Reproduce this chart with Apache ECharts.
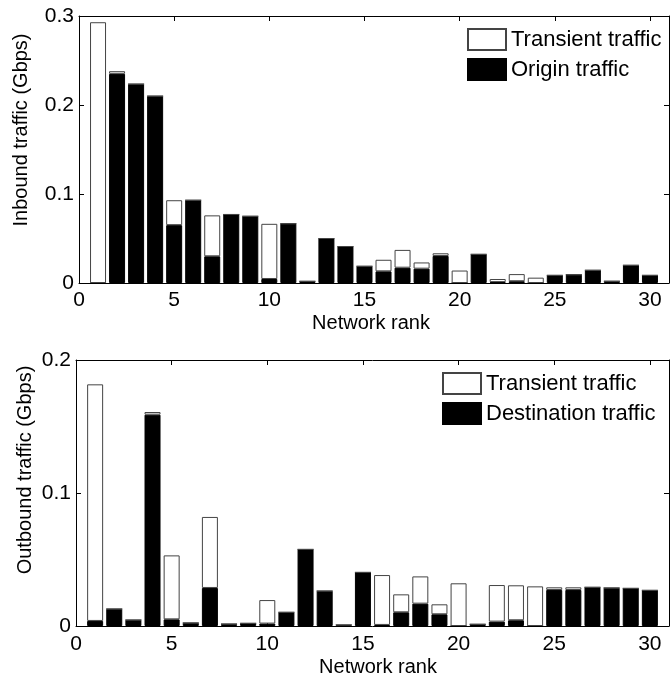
<!DOCTYPE html>
<html>
<head>
<meta charset="utf-8">
<script src="https://cdn.jsdelivr.net/npm/echarts@6/dist/echarts.min.js"></script>
<style>
  html, body { margin: 0; padding: 0; background: #fff; }
  #chart { width: 672px; height: 677px; }
</style>
</head>
<body>
<div id="chart"></div>
<script>
// 数据
var ranks = [1, 2, 3, 4, 5, 6, 7, 8, 9, 10, 11, 12, 13, 14, 15, 16, 17, 18, 19, 20, 21, 22, 23, 24, 25, 26, 27, 28, 29, 30];
var xTicks = [0, 5, 10, 15, 20, 25, 30];

// 上图: inbound
var inOrigin = [0, 0.235, 0.2235, 0.21, 0.065, 0.093, 0.030, 0.077, 0.075, 0.0045,
  0.0667, 0.0019, 0.050, 0.041, 0.0188, 0.0131, 0.0172, 0.0161, 0.0304, 0,
  0.0322, 0.001, 0.002, 0, 0.0086, 0.0094, 0.0143, 0.002, 0.0199, 0.0086];
var inTransient = [0.293, 0.003, 0, 0, 0.028, 0, 0.046, 0, 0, 0.062,
  0, 0, 0, 0, 0, 0.013, 0.020, 0.007, 0.003, 0.014,
  0, 0.0035, 0.008, 0.006, 0, 0, 0, 0, 0, 0];
var inTicks = [0, 0.1, 0.2, 0.3];

// 下图: outbound
var outDest = [0.0038, 0.0128, 0.0045, 0.1589, 0.005, 0.0023, 0.0286, 0.0015, 0.002, 0.0018,
  0.0103, 0.0576, 0.0263, 0.0008, 0.0403, 0.0008, 0.0103, 0.0168, 0.0088, 0,
  0.0013, 0.0033, 0.0043, 0, 0.0271, 0.0271, 0.0291, 0.0286, 0.0283, 0.0268];
var outTransient = [0.1779, 0, 0, 0.002, 0.0481, 0, 0.0534, 0, 0, 0.0177,
  0, 0, 0, 0, 0, 0.0375, 0.0135, 0.0205, 0.0075, 0.0321,
  0, 0.0275, 0.0263, 0.0298, 0.002, 0.002, 0, 0, 0, 0];
var outTicks = [0, 0.1, 0.2];

var font = 'Liberation Sans, Arial, Helvetica, sans-serif';
var chart = echarts.init(document.getElementById('chart'));

// 值在前、rank 在后，这样 stack 作用在 y 维上
function pairs (vals) {
  return ranks.map(function (r, i) { return [vals[i], r]; });
}

function xAxes (gi, margin) {
  var base = {
    type: 'value', gridIndex: gi, min: 0, max: 31, interval: 5,
    splitLine: { show: false },
    axisLine: { show: true, onZero: false, lineStyle: { color: '#000', width: 1 } },
    axisTick: { show: true, inside: true, length: 5, lineStyle: { color: '#000' } }
  };
  var bottom = echarts.util.merge({
    position: 'bottom',
    axisLabel: {
      margin: margin, color: '#000', fontSize: 21, fontFamily: font,
      formatter: function (v) { return xTicks.indexOf(v) >= 0 ? String(v) : ''; }
    }
  }, base, true);
  var top = echarts.util.merge({ position: 'top', axisLabel: { show: false } }, base, true);
  return [bottom, top];
}

function yAxes (gi, ticks) {
  var base = {
    type: 'value', gridIndex: gi, min: ticks[0], max: ticks[ticks.length - 1], interval: 0.1,
    splitLine: { show: false },
    axisLine: { show: true, onZero: false, lineStyle: { color: '#000', width: 1 } },
    axisTick: { show: true, inside: true, length: 5, lineStyle: { color: '#000' } }
  };
  var left = echarts.util.merge({
    position: 'left',
    axisLabel: {
      margin: 5, color: '#000', fontSize: 21, fontFamily: font,
      formatter: function (v) {
        var s = +v.toFixed(2);
        return ticks.indexOf(s) >= 0 ? String(s) : '';
      }
    }
  }, base, true);
  var right = echarts.util.merge({ position: 'right', axisLabel: { show: false } }, base, true);
  return [left, right];
}

function barSeries (name, vals, gi, stack, fill, edge) {
  return {
    name: name, type: 'bar', stack: stack,
    xAxisIndex: gi * 2, yAxisIndex: gi * 2,
    encode: { x: 1, y: 0 },
    barWidth: 16,
    data: pairs(vals),
    itemStyle: { color: fill, borderColor: edge, borderWidth: 1 },
    emphasis: { disabled: true },
    animation: false
  };
}

function legendAt (left, top, names) {
  return {
    data: names, orient: 'vertical', left: left, top: top, padding: 0,
    icon: 'rect', itemWidth: 38, itemHeight: 21, itemGap: 7,
    textStyle: { fontSize: 22, color: '#000', fontFamily: font },
    selectedMode: false
  };
}

function label (txt, x, y, rot) {
  return {
    type: 'text', x: x, y: y, rotation: rot || 0,
    style: { text: txt, fontSize: 20, fontFamily: font, fill: '#000', align: 'center', verticalAlign: 'middle' }
  };
}

var option = {
  backgroundColor: '#fff',
  animation: false,
  grid: [
    { left: 79, top: 16, right: -4, bottom: 394 },
    { left: 76, top: 360, right: -1, bottom: 51 }
  ],
  xAxis: xAxes(0, 7).concat(xAxes(1, 8)),
  yAxis: yAxes(0, inTicks).concat(yAxes(1, outTicks)),
  legend: [
    legendAt(467, 28, ['Transient traffic', 'Origin traffic']),
    legendAt(442, 372, ['Transient traffic', 'Destination traffic'])
  ],
  series: [
    barSeries('Origin traffic', inOrigin, 0, 'in', '#000', '#000'),
    barSeries('Transient traffic', inTransient, 0, 'in', '#fff', '#444'),
    barSeries('Destination traffic', outDest, 1, 'out', '#000', '#000'),
    barSeries('Transient traffic', outTransient, 1, 'out', '#fff', '#444')
  ],
  graphic: [
    label('Inbound traffic (Gbps)', 21, 130, Math.PI / 2),
    label('Outbound traffic (Gbps)', 25, 470, Math.PI / 2),
    label('Network rank', 371, 323),
    label('Network rank', 378, 667)
  ]
};
chart.setOption(option, true);
</script>
</body>
</html>
